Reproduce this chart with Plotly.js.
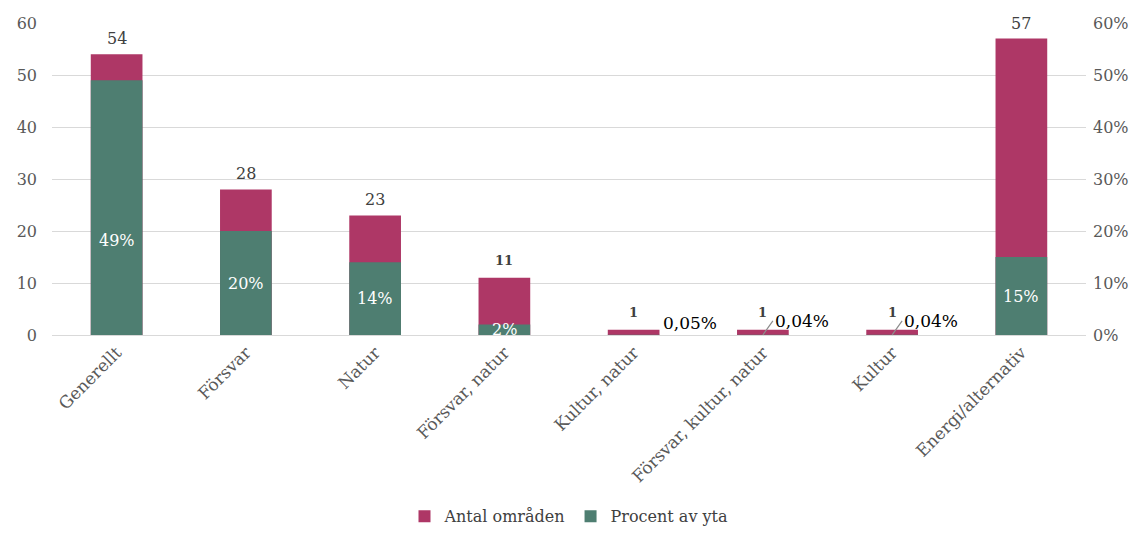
<!DOCTYPE html>
<html><head><meta charset="utf-8">
<script src="https://cdn.plot.ly/plotly-3.0.1.min.js"></script>
<style>body{margin:0;background:#fff}#chart{width:1148px;height:535px}</style>
</head><body><div id="chart"></div>
<script>
const categories = ["Generellt","Försvar","Natur","Försvar, natur","Kultur, natur","Försvar, kultur, natur","Kultur","Energi/alternativ"];
const antalOmraden = [54, 28, 23, 11, 1, 1, 1, 57];
const procentAvYta = [0.49, 0.20, 0.14, 0.02, 0.0005, 0.0004, 0.0004, 0.15];
const leftTicks = [0, 10, 20, 30, 40, 50, 60];
const rightTicks = [0, 0.1, 0.2, 0.3, 0.4, 0.5, 0.6];
const rightTickText = ["0%","10%","20%","30%","40%","50%","60%"];

const RED = "#AE3766", GREEN = "#4E7E71", FONT = "DejaVu Serif, Liberation Serif, serif";

function pct(v){ return (+(v*100).toFixed(2)).toString().replace('.', ',') + '%'; }

const traces = [
  {type:'bar', name:'Antal områden', x:categories, y:antalOmraden, yaxis:'y',
   marker:{color:RED}, width:0.4, hoverinfo:'skip'},
  {type:'bar', name:'Procent av yta', x:categories, y:procentAvYta, yaxis:'y2',
   marker:{color:GREEN}, width:0.4, hoverinfo:'skip'}
];

const annotations = [];
categories.forEach((c,i)=>{
  const small = antalOmraden[i] < 15;
  annotations.push({x:c, y:antalOmraden[i], xref:'x', yref:'y', text:String(antalOmraden[i]),
    showarrow:false, yanchor:'bottom', yshift: small ? 8 : 4,
    font:{family:FONT, size: small ? 13 : 16, color:'#404040', weight: small ? 'bold' : 'normal'}});
  const v = procentAvYta[i];
  if (v >= 0.01) {
    annotations.push({x:c, y:v/2, xref:'x', yref:'y2', text:pct(v), showarrow:false,
      yanchor:'middle', yshift: i===0 ? -33 : 0,
      font:{family:FONT, size:16, color:'#ffffff'}});
  } else {
    const lead = i > 4;
    annotations.push({x:c, y:v, xref:'x', yref:'y2', text:pct(v),
      showarrow: lead, arrowhead:0, arrowwidth:1.2, arrowcolor:'#8c8c8c', standoff:0,
      ax: lead ? 10 : 0, ay: lead ? -14 : 0, xanchor: lead ? 'left':'center',
      xshift: lead ? 0 : 56, yshift: lead ? 0 : 12,
      font:{family:FONT, size:17, color:'#000000'}});
  }
});

const layout = {
  width:1148, height:535,
  margin:{l:52, r:62, t:23, b:200},
  paper_bgcolor:'#fff', plot_bgcolor:'#fff',
  barmode:'overlay', showlegend:true,
  separators:', ',
  font:{family:FONT, color:'#595959', size:15},
  xaxis:{type:'category', tickangle:-45, showgrid:false, zeroline:false, automargin:false,
    showline:true, linecolor:'#d9d9d9', ticks:'', tickfont:{family:FONT, size:17, color:'#595959'}},
  yaxis:{range:[0,60], tickvals:leftTicks, showgrid:true, gridcolor:'#d9d9d9', gridwidth:1,
    zeroline:false, showline:false, ticks:'', ticklabelstandoff:14, automargin:false,
    tickfont:{family:FONT, size:16, color:'#595959'}},
  yaxis2:{range:[0,0.6], overlaying:'y', side:'right', tickvals:rightTicks, ticktext:rightTickText,
    showgrid:false, zeroline:false, showline:false, ticks:'', ticklabelstandoff:6, automargin:false,
    tickfont:{family:FONT, size:16, color:'#595959'}},
  legend:{orientation:'h', x:0.5, xanchor:'center', xref:'paper', yref:'container', y:0.035, yanchor:'middle',
    font:{family:FONT, size:16, color:'#404040'}, traceorder:'normal'},
  annotations:annotations
};

Plotly.newPlot('chart', traces, layout, {displayModeBar:false, staticPlot:true});
</script></body></html>
